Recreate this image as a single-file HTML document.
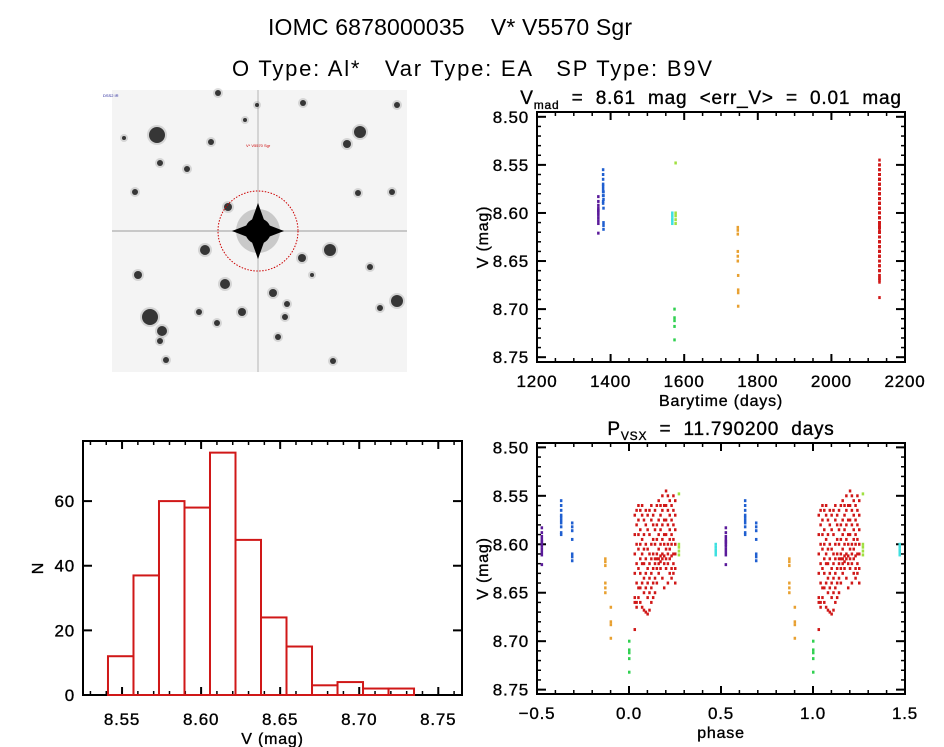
<!DOCTYPE html>
<html><head><meta charset="utf-8"><style>
html,body{margin:0;padding:0;background:#fff;}
svg{display:block;font-family:"Liberation Sans",sans-serif;}
text{white-space:pre;}
.tk{stroke:#000;stroke-width:0.35px;letter-spacing:0.8px;}
</style></head><body>
<svg id="fig" width="944" height="747" viewBox="0 0 944 747" xmlns="http://www.w3.org/2000/svg" xml:space="preserve">
<rect width="944" height="747" fill="#fff"/>
<text x="268" y="35" font-size="23" textLength="364" lengthAdjust="spacing">IOMC 6878000035    V* V5570 Sgr</text>
<text x="232" y="76" font-size="22" textLength="480" lengthAdjust="spacing">O Type: Al*   Var Type: EA   SP Type: B9V</text>
<g id="img"></g>
<g id="lc"></g>
<g id="hist"></g>
<g id="ph"></g>
</svg>
<script>
// ---- data ----
const groupNames=["purple","blue-a","blue-b","cyan","yellowgreen","green","orange-a","orange-b"];
const groupColors=["#5a1a9a","#1f5fd0","#1f5fd0","#3ee0e0","#a0e040","#30d050","#e8a030","#e8a030"];
const groupTimes=[1366,1379,1380,1567,1576,1573,1745,1746];
const groupPhases=[0.525,0.63,0.69,0.47,0.27,0.0,0.87,0.90];
const groupMags=[
 [8.583,8.588,8.592,8.595,8.597,8.598,8.600,8.602,8.605,8.608,8.611,8.621],
 [8.555,8.560,8.565,8.570,8.572,8.575,8.578,8.582,8.588,8.590],
 [8.578,8.582,8.586,8.595,8.610,8.613,8.617],
 [8.600,8.603,8.606,8.608,8.611],
 [8.548,8.600,8.603,8.607,8.611],
 [8.700,8.709,8.712,8.718,8.732],
 [8.615,8.618,8.622,8.640,8.645,8.650],
 [8.665,8.680,8.683,8.697]
];
const redTime=2130;
const redColPhases=[0.03,0.04,0.05,0.06,0.07,0.08,0.09,0.10,0.11,0.12,0.13,0.14,0.15,0.16,0.17,0.18,0.19,0.20,0.21,0.22,0.23,0.24,0.25];
const redColMags=[
 [8.57,8.59,8.61,8.63,8.655,8.66,8.688],
 [8.565,8.58,8.60,8.62,8.64,8.66,8.665],
 [8.56,8.575,8.59,8.605,8.625,8.645,8.655],
 [8.565,8.585,8.60,8.615,8.63,8.645,8.66],
 [8.56,8.57,8.595,8.61,8.62,8.64,8.665],
 [8.575,8.59,8.605,8.62,8.635,8.65,8.668],
 [8.565,8.58,8.60,8.615,8.63,8.645,8.67],
 [8.57,8.585,8.605,8.625,8.64,8.655,8.672],
 [8.565,8.59,8.61,8.62,8.635,8.65,8.668],
 [8.56,8.575,8.60,8.615,8.63,8.645,8.66],
 [8.57,8.58,8.595,8.61,8.625,8.64,8.655],
 [8.565,8.585,8.60,8.615,8.62,8.635,8.65],
 [8.56,8.58,8.595,8.61,8.615,8.625,8.64],
 [8.555,8.575,8.59,8.605,8.615,8.62,8.63],
 [8.56,8.57,8.585,8.60,8.612,8.618,8.625],
 [8.55,8.565,8.58,8.595,8.61,8.615,8.635],
 [8.56,8.575,8.59,8.60,8.612,8.62,8.645],
 [8.545,8.56,8.575,8.59,8.605,8.615,8.625],
 [8.55,8.565,8.58,8.60,8.61,8.62,8.64],
 [8.555,8.57,8.585,8.595,8.605,8.615,8.63],
 [8.56,8.575,8.59,8.60,8.612,8.625,8.635],
 [8.55,8.565,8.58,8.595,8.61,8.62,8.63],
 [8.555,8.57,8.585,8.60,8.61,8.625,8.64]
];
const histBinStart=8.5411, histBinWidth=0.01613;
const histCounts=[12,37,60,58,75,48,24,15,3,4,2,2];
const magTicks=[8.50,8.55,8.60,8.65,8.70,8.75];
const timeTicks=[1200,1400,1600,1800,2000,2200];
const phaseTicks=[-0.5,0.0,0.5,1.0,1.5];
const histXTicks=[8.55,8.60,8.65,8.70,8.75];
const histYTicks=[0,20,40,60];
const stars=[[157,135,8],[360,132,6],[347,144,4],[303,103,3],[211,142,3],[205,250,5],[330,250,6],[302,258,4],[225,284,5],[273,293,4],[287,304,3],[285,317,3],[242,312,4],[199,312,3],[150,317,8],[162,331,5],[160,341,3],[138,275,4],[397,301,6],[217,323,3],[166,360,3],[278,337,3],[333,361,3],[370,267,3],[228,207,4],[160,163,3],[187,169,3],[135,192,3],[392,192,3],[358,193,3],[245,120,2],[257,105,2],[218,93,3],[397,105,3],[380,308,3],[312,275,2],[124,138,2]];

const NS="http://www.w3.org/2000/svg";
function mk(parent,tag,attrs){const e=document.createElementNS(NS,tag);for(const k in attrs)e.setAttribute(k,attrs[k]);parent.appendChild(e);return e;}

// ---- sky image ----
(function(){
 const g=document.getElementById('img');
 const bg=mk(g,'rect',{x:112,y:90,width:295,height:282,fill:'#f4f4f4'});
 
 
 mk(g,'line',{x1:112,y1:231,x2:407,y2:231,stroke:'#c8c8c8','stroke-width':2});
 mk(g,'line',{x1:258,y1:90,x2:258,y2:372,stroke:'#d4d4d4','stroke-width':2});
 stars.forEach(s=>{
  mk(g,'circle',{cx:s[0],cy:s[1],r:s[2]+2,fill:'#777',opacity:0.25});
  const c=mk(g,'circle',{cx:s[0],cy:s[1],r:s[2],fill:'#1a1a1a',opacity:0.85});
  
  
 });
 mk(g,'circle',{cx:258,cy:231,r:22,fill:'#666',opacity:0.3});
 mk(g,'polygon',{points:'258,203 268,231 258,259 248,231',fill:'#000'});
 mk(g,'polygon',{points:'232,231 258,221 284,231 258,241',fill:'#000'});
 const t=mk(g,'circle',{cx:258,cy:231,r:13,fill:'#000'});
 
 
 const ring=mk(g,'circle',{cx:258,cy:231,r:40,fill:'none',stroke:'#c00','stroke-width':1,'stroke-dasharray':'1.5,1.5'});
 
 
 const lab=mk(g,'text',{x:246,y:147,'font-size':4,fill:'#c00'});lab.textContent='V* V5570 Sgr';
 
 
 const l2=mk(g,'text',{x:103,y:97,'font-size':4,fill:'#229'});l2.textContent='DSS2 IR';
 
 
})();

function axes(g,box,xr,yr,xt,yt,xMinor,yMinor,fmtX,fmtY,xTitle,yTitle,xLabY,yLabX){
 const sx=v=>box.x0+(v-xr[0])/(xr[1]-xr[0])*(box.x1-box.x0);
 const sy=v=>box.y0+(v-yr[0])/(yr[1]-yr[0])*(box.y1-box.y0);
 const r=mk(g,'rect',{x:box.x0,y:box.y0,width:box.x1-box.x0,height:box.y1-box.y0,fill:'none',stroke:'#000','stroke-width':2});
 
 
 for(let v=xr[0]-(xr[0]%xMinor);v<=xr[1]+1e-9;v+=xMinor){const X=sx(v);if(X<box.x0||X>box.x1)continue;
  mk(g,'line',{x1:X,y1:box.y1,x2:X,y2:box.y1-4,stroke:'#000','stroke-width':1.5});
  mk(g,'line',{x1:X,y1:box.y0,x2:X,y2:box.y0+4,stroke:'#000','stroke-width':1.5});}
 if(yMinor){const lo=Math.min(yr[0],yr[1]),hi=Math.max(yr[0],yr[1]);
 for(let v=Math.ceil(lo/yMinor)*yMinor;v<=hi+1e-9;v+=yMinor){const Y=sy(v);
  mk(g,'line',{x1:box.x0,y1:Y,x2:box.x0+4,y2:Y,stroke:'#000','stroke-width':1.5});
  mk(g,'line',{x1:box.x1,y1:Y,x2:box.x1-4,y2:Y,stroke:'#000','stroke-width':1.5});}}
 xt.forEach(v=>{const X=sx(v);
  mk(g,'line',{x1:X,y1:box.y1,x2:X,y2:box.y1-8,stroke:'#000','stroke-width':2});
  mk(g,'line',{x1:X,y1:box.y0,x2:X,y2:box.y0+8,stroke:'#000','stroke-width':2});
  const t=mk(g,'text',{x:X,y:xLabY,'font-size':17,'text-anchor':'middle','class':'tk'});t.textContent=fmtX(v);
  
  });
 yt.forEach(v=>{const Y=sy(v);
  mk(g,'line',{x1:box.x0,y1:Y,x2:box.x0+9,y2:Y,stroke:'#000','stroke-width':2});
  mk(g,'line',{x1:box.x1,y1:Y,x2:box.x1-9,y2:Y,stroke:'#000','stroke-width':2});
  const t=mk(g,'text',{x:yLabX,y:Y+6,'font-size':17,'text-anchor':'end','class':'tk'});t.textContent=fmtY(v);
  
  });
 const xtEl=mk(g,'text',{x:(box.x0+box.x1)/2,y:xLabY+19,'font-size':16,'text-anchor':'middle','class':'tk'});xtEl.textContent=xTitle;
 
 
 const yx=yTitle.x, yy=(box.y0+box.y1)/2;
 const ytEl=mk(g,'text',{x:yx,y:yy,'font-size':16,'text-anchor':'middle','class':'tk',transform:`rotate(-90 ${yx} ${yy})`});ytEl.textContent=yTitle.t;
 
 
 return {sx,sy};
}
function dot(g,x,y,c){const d=mk(g,'rect',{x:x-1,y:y-1.5,width:2.5,height:3,fill:c});
 
 }

// ---- light curve ----
(function(){
 const g=document.getElementById('lc');
 const box={x0:537,y0:112,x1:905,y1:362};
 const a=axes(g,box,[1200,2200],[8.495,8.755],timeTicks,magTicks,50,0.01,v=>String(v),v=>v.toFixed(2),'Barytime (days)',{x:488,t:'V (mag)'},387,529);
 const t=mk(g,'text',{x:711,y:104,'font-size':19,'text-anchor':'middle','class':'tk','letter-spacing':'1.8px'});
 
 
 t.innerHTML='V<tspan font-size="12" dy="5">mad</tspan><tspan dy="-5">  =  8.61  mag  &lt;err_V&gt;  =  0.01  mag</tspan>';
 groupMags.forEach((ms,i)=>ms.forEach(m=>dot(g,a.sx(groupTimes[i]),a.sy(m),groupColors[i])));
 redColMags.forEach((ms,i)=>ms.forEach(m=>dot(g,a.sx(redTime),a.sy(m),'#d01818')));
})();

// ---- phase plot ----
(function(){
 const g=document.getElementById('ph');
 const box={x0:537,y0:443,x1:905,y1:694};
 const a=axes(g,box,[-0.5,1.5],[8.4955,8.7545],phaseTicks,magTicks,0.1,0.01,v=>v.toFixed(1).replace('-','\u2212'),v=>v.toFixed(2),'phase',{x:488,t:'V (mag)'},719,529);
 const t=mk(g,'text',{x:721,y:435,'font-size':19,'text-anchor':'middle','class':'tk','letter-spacing':'1.8px'});
 
 
 t.innerHTML='P<tspan font-size="12" dy="5">VSX</tspan><tspan dy="-5">  =  11.790200  days</tspan>';
 function plotAt(p,m,c){[-1,0,1].forEach(k=>{const q=p+k;if(q>=-0.5&&q<=1.5)dot(g,a.sx(q),a.sy(m),c);});}
 groupMags.forEach((ms,i)=>ms.forEach(m=>plotAt(groupPhases[i],m,groupColors[i])));
 redColMags.forEach((ms,i)=>ms.forEach(m=>plotAt(redColPhases[i],m,'#d01818')));
})();

// ---- histogram ----
(function(){
 const g=document.getElementById('hist');
 const box={x0:83,y0:441,x1:462,y1:695};
 const a=axes(g,box,[8.5253,8.765],[78.6,0],histXTicks,histYTicks,0.01,0,v=>v.toFixed(2),v=>String(v),'V (mag)',{x:43,t:'N'},725,75);
 histCounts.forEach((c,i)=>{
  const x0=a.sx(histBinStart+i*histBinWidth),x1=a.sx(histBinStart+(i+1)*histBinWidth);
  const b=mk(g,'rect',{x:x0,y:a.sy(c),width:x1-x0,height:a.sy(0)-a.sy(c),fill:'none',stroke:'#d01818','stroke-width':2});
  
  
 });
})();
</script>
</body></html>
